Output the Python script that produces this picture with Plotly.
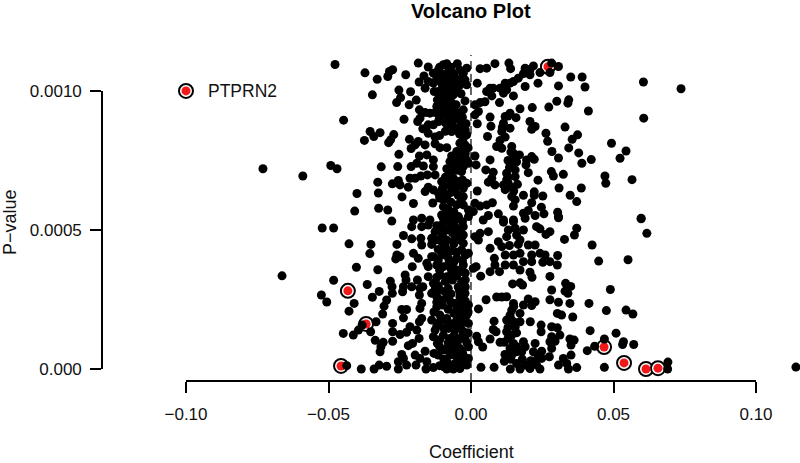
import numpy as np
import plotly.graph_objects as go

# All pairs: (coefficient x 1e3, p-value x 1e6)
upper_left = [(-47.7,1095),(-37.2,1065),(-32.9,1042),(-29.2,1052),(-28.6,1070),(-27.5,1076),(-22.9,1058),(-18.5,1100),(-15,1086),
(-34.6,986),(-25.3,1003),(-21.2,997),(-26.1,958),(-24.7,976),(-21.7,950),(-19.2,967),(-44.7,895),(-23.5,898),(-18.1,932),(-16.1,922),
(-18.7,890),(-17.9,902),(-35.4,854),(-34.1,836),(-31.9,850),(-37.4,822),(-27.1,843),(-28.9,814),(-28.2,824),(-21.6,826),(-18.5,818),
(-16.1,806),(-21,793),(-19.6,806),(-25.3,772),(-49.2,732),(-47,720),(-31.5,727),(-25.7,728),(-59,694),(-21,728),(-19,740),(-18.1,766),
(-15.5,770),(-13.2,752),(-16.7,730),(-13.2,728),(-12.6,698),(-32.7,672),(-27.6,666),(-25.5,678),(-24.9,662),(-22,654),(-21.4,686),
(-19.6,686),(-17.6,694),(-15.3,698),(-40,631),(-32.5,633),(-24.2,619),(-16.1,638),(-15,654),(-20.2,595),(-13.4,597),(-40.8,568),
(-32.4,578),(-29.2,572),(-73,720),(-66.3,335)]
core_upper_left = [(-13.2,1064),(-11.4,1076),(-9.7,1094),(-8.5,1098),(-4.8,1098),(-10.9,1058),(-9.5,1046),(-7.9,1070),(-1.5,1082),
(-2.7,1064),(-5,1040),(-2.1,1040),(-1.5,1022),(-5.9,1022),(-16.5,1054),(-15,1034),(-18.2,1032),(-16.1,1010),(-13.2,1028),(-10.3,1028),
(-12.9,998),(-9.7,1004),(-11.4,998),(-5,1004),(-6.8,1010),(-6.2,986),(-7.9,980),(-2.1,964),(-11.8,968),(-9.7,968),(-12,944),(-10.3,944),
(-8.5,938),(-5.2,950),(-2.7,932),(-4.1,920),(-5.6,920),(-7.9,926),(-10.3,922),(-12.6,922),(-14.4,920),(-6.2,896),(-1.7,882),(-3.3,878),
(-11.4,890),(-13.2,878),(-15,878),(-16.9,864),(-15,848),(-12.6,834),(-7.4,872),(-6.8,854),(-5,860),(-1.5,842),(-2.7,830),(-3.9,812),
(-2.1,806),(-12.6,810),(-10.9,796),(-8.5,796),(-5,782),(-2.7,788),(-2.1,764),(-6.8,766),(-7.4,746),(-5,740),(-8.5,720),(-6.2,734),
(-2.7,728),(-0.9,740),(-3.3,710),(-10.3,674),(-6.2,686),(-4.4,674),(-8.5,662),(-6.8,656),(-1.5,668),(-2.7,650),(-5.6,644),(-13.2,644),
(-11.4,632),(-9.7,638),(-8.5,620),(-9.7,608),(-2.7,620),(-5,590),(-2.7,590),(-0.9,572),(-9.7,584),(-8.5,560),(-10.3,554),(-4.4,548),
(-11,1085),(-7,1085),(-9,1060),(-6,1060),(-4,1075),(-3,1050),(-12,1045),(-8,1030),(-7,1045),(-4,1020),(-10,1012),(-8,1000),(-3.5,990),
(-9,985),(-11,980),(-8.5,955),(-7,960),(-6,935),(-9.5,930),(-11,905),(-8,905),(-4,895),(-3,905),(-9,885),(-6,870),(-2,860),(-4,845),
(-9,855),(-11,840),(-3,795),(-1,795),(-2,775),(-4,760),(-6,750),(-3.5,745),(-1.5,750),(-7,705),(-5,715),(-9,690),(-7,670),(-3,680),
(-5,660),(-10,650),(-7,635),(-4.5,625),(-11,615),(-7,600),(-3.5,605),(-8,575),(-6,565),(-7,548)]
lower_left = [(-52.2,507),(-48.2,507),(-42.8,450),(-35.1,448),(-35.5,415),(-40.2,366),(-32.7,357),(-27.8,532),(-26,448),(-23.7,480),
(-26,410),(-24.9,404),(-26.4,396),(-48.2,319),(-36.4,304),(-52.5,266),(-50.6,241),(-34.6,258),(-32.2,279),(-41,236),(-42.8,208),
(-28.3,316),(-27.7,296),(-27.6,272),(-29.6,248),(-30.5,226),(-31,198),(-23.1,338),(-22.8,320),(-23.7,296),(-24,278),(-20.8,296),
(-18.8,320),(-44.8,128),(-41.3,122),(-39.5,140),(-33.3,170),(-35.2,134),(-38.2,158),(-33.6,103),(-30.8,96),(-31.6,80),(-31.9,62),
(-27.5,100),(-27.5,164),(-27.5,134),(-24.9,124),(-22.6,132),(-21.4,152),(-19,140),(-24.3,214),(-22.6,214),(-23.7,184),(-43.6,12),
(-38.5,0),(-34,0),(-32.2,14),(-29.6,10),(-25.5,0),(-25.5,26),(-23.7,38),(-22.6,14),(-24.3,52),(-19.3,14),(-22,84),(-20.5,92),(-18.2,110),
(-19.6,50),(-16.1,64),(-13,56),(-15.5,26),(-15.8,0),(-13.2,5),(-17.9,38),(-20.2,536),(-20.8,512),(-17.3,542),(-14.4,536),(-17.3,512),
(-15,518),(-20.8,468),(-17.6,470),(-17.3,446),(-13.8,470),(-13.8,448),(-20.2,416),(-18.5,398),(-20.6,368),(-15.5,380),(-15,368),
(-13.8,404),(-15,332),(-17.9,290),(-16.9,296),(-18.1,266),(-17.9,218),(-17.3,236),(-18.1,170),(-17.3,182),(-13.8,176),(-12.6,140),
(-13.2,116),(-11.8,92)]
core_lower_left = [(-9.7,542),(-8.5,536),(-10.9,500),(-12.6,494),(-8.5,500),(-5,506),(-2.7,512),(-0.9,548),(-4.4,542),(-2.7,482),
(-5.6,470),(-8.5,464),(-10.3,458),(-2.7,452),(-3.3,428),(-0.9,416),(-13.2,404),(-10.3,410),(-7.9,398),(-5,398),(-2.7,374),(-12,374),
(-9.7,368),(-5,356),(-3.3,350),(-6.8,344),(-10.9,338),(-8.5,332),(-3.3,314),(-13.2,308),(-10.9,284),(-9.1,278),(-13.8,272),(-12,260),
(-10.3,248),(-2.1,272),(-3.9,260),(-5.6,236),(-0.9,230),(-2.7,218),(-4.4,206),(-1.5,194),(-12,224),(-10.9,194),(-8.5,182),(-10.9,170),
(-6.2,164),(-3.9,164),(-0.9,164),(-7.9,146),(-5.6,140),(-2.7,134),(-9.7,122),(-7.4,110),(-4.4,104),(-2.1,110),(-6.2,80),(-3.9,74),
(-0.9,80),(-8.5,74),(-9.7,68),(-7.4,50),(-5,44),(-2.7,50),(-0.9,38),(-8.5,26),(-5.6,20),(-3.3,20),(-8.5,0),(-6.2,0),(-3.9,2),(-1.5,14),
(-6,530),(-3,530),(-10,520),(-7,515),(-12,515),(-4,490),(-6.5,490),(-10,480),(-12,465),(-6,450),(-4,465),(-9,440),(-11.5,430),(-7,425),
(-5,420),(-2,410),(-9,415),(-11.5,390),(-6,385),(-3,390),(-8,375),(-11,355),(-2,345),(-7,360),(-5,335),(-12,330),(-9,315),(-6.5,320),
(-2,320),(-11.5,300),(-8,290),(-4.5,295),(-2,295),(-12.5,290),(-7,270),(-4,280),(-8.5,255),(-2,245),(-3.5,235),(-10,230),(-7,240),(-12,240),
(-8,215),(-5,220),(-1,205),(-13,205),(-6,200),(-3,190),(-8,165),(-12,155),(-2,170),(-5,175),(-9.5,145),(-3.5,145),(-1,130),(-11,105),
(-6,120),(-3,120),(-8,95),(-5.5,92),(-1.5,95),(-11,80),(-3,60),(-6,62),(-11.5,50),(-9.5,35),(-4,30),(-2,30),(-11,12),(-9.5,8),(-7,12),(-5,5)]
upper_right = [(3.2,1080),(5.5,1082),(8.4,1098),(13.3,1100),(13.9,1080),(21.9,1090),(19,1082),(20.7,1076),(18.4,1062),(20.7,1058),
(24.2,1066),(28.3,1100),(30.7,1088),(27.7,1066),(35,1050),(39,1050),(40,1014),(60.5,1032),(60.6,902),(30.7,1018),(23.5,1028),(19,1016),
(16.6,1046),(14.9,1034),(13.7,1028),(12,1028),(10.2,1010),(12.5,1004),(11.4,992),(7.8,1010),(6.7,1010),(5.5,998),(7.3,982),(2.2,1028),
(14.9,982),(10,958),(4.9,961),(3.2,958),(1.4,950),(2.6,926),(1.4,914),(17.2,936),(21.5,940),(27.3,942),(30.1,963),(34.3,968),(34,956),
(41.2,928),(6.7,906),(2.2,882),(7,873),(5.8,836),(13.7,920),(15.8,904),(12,908),(11.4,884),(13.7,866),(10.8,854),(12,834),(10.2,822),
(9,800),(10.8,794),(20.7,890),(22.5,872),(21.3,862),(26.3,848),(26.9,819),(33,870),(37.4,842),(35.5,826),(34.3,795),(28.4,782),(37.8,777),
(30.7,759),(42.2,753),(38.9,740),(49.3,812),(54.4,784),(52.3,758),(47,694),(47.3,668),(56.5,681),(32.4,700),(28.2,710),(28.9,694),
(23.5,679),(30.9,651),(38.7,651),(34.8,625),(37.1,602),(59.7,542),(25.2,622),(22.2,637),(22.2,625),(18.4,625),(21.3,598),(24.7,582),
(25.6,558),(30.4,564),(30.7,548),(14.3,800),(14.9,776),(14.9,758),(17,770),(14.3,734),(15.5,716),(12.5,704),(15.5,692),(12.5,680),
(11.4,662),(13.7,656),(16.3,664),(14.3,620),(15.5,608),(14.9,586),(21.3,764),(19.5,752),(22.2,754),(19.3,734),(20.1,706),(6.7,752),
(1.4,766),(1.8,734),(5.2,716),(7.8,708),(7.3,686),(6.1,672),(8.4,662),(2.2,640),(1.4,596),(3.2,586),(5.5,590),(7.5,598),(0.8,566),
(6.1,552),(9.6,558),(18.4,560),(20.1,570),(22.5,552),(14.9,536),(11.4,536),(73.7,1008),(13,910),(11,870),(14,780),(13,750),(13.5,725),
(16,745),(13,690),(13,670),(12,645),(15,640)]
lower_right = [(59.7,540),(61.7,488),(42.5,446),(44.8,388),(55.1,393),(37.1,506),(36.3,482),(32.8,466),(30.7,544),(27.7,494),(26.3,484),
(24.2,504),(23,512),(19,542),(14.9,530),(11.4,528),(4.3,536),(6.1,494),(3.2,488),(1.4,476),(2.6,464),(13.1,500),(15.5,506),(18.4,500),
(12.5,476),(17.2,464),(16,482),(9.6,458),(10.8,440),(6.7,434),(13.5,444),(16.6,448),(20.1,446),(22.5,446),(8.2,398),(12,410),(14.9,410),
(17.2,416),(21.3,410),(24.2,416),(26,410),(30.4,408),(30.3,374),(27.7,386),(25.2,384),(18.4,386),(21.3,386),(12,374),(8.4,374),(14.9,374),
(1.8,368),(0.8,362),(3.4,334),(6.7,350),(10,350),(17.2,356),(20.7,348),(21.4,330),(27.7,333),(14.6,306),(17.2,310),(18.1,302),(33.2,308),
(35,297),(33,280),(34,272),(28.3,284),(27.7,249),(30.7,240),(34.7,236),(41.4,236),(48.9,286),(5.3,249),(9,259),(10.8,259),(12.5,260),
(2.6,216),(14.9,236),(14.3,212),(13.7,194),(20.1,252),(22.5,242),(18.4,230),(21.3,228),(17.2,200),(30.3,200),(31.8,194),(35.7,187),
(47.5,210),(54.4,212),(56.8,198),(8.1,172),(12.5,176),(14.9,170),(17.2,170),(20.8,170),(7.8,142),(8.8,134),(12.5,134),(14.3,122),
(24.6,158),(24.6,134),(28.3,152),(30.3,148),(31.2,122),(41.8,138),(50.9,129),(2,118),(6.7,108),(2.6,98),(4.1,79),(10.2,96),(11.7,96),
(14.9,92),(18.4,98),(22.5,92),(28.3,116),(27.7,98),(29.5,100),(28.3,74),(34.7,108),(36.2,104),(35.1,86),(35.1,50),(46.8,108),(43.4,82),
(40.8,66),(53.5,98),(53.2,88),(57.1,88),(13.7,74),(16,62),(17.8,62),(11.9,52),(14.3,50),(21.9,62),(24.8,64),(23.6,44),(27.5,44),(11.7,28),
(16,20),(19,14),(22.5,26),(24.8,38),(32.4,38),(30.7,14),(33.6,20),(34.2,0),(37.1,5),(3.5,6),(8.1,6),(13.8,0),(17.2,0),(20.7,2),(24.2,0),
(46.8,6),(69.1,25),(69,0),(114,7),(15,225),(14,180),(13,150),(15.5,150),(16,130),(13,110),(16,80),(19,80),(14,35),(21,30),(23,15),(18,35)]
highlighted = [(27,1087),(-43.2,281),(-36.8,162),(-45.6,11),(46.7,79),(53.7,22),(61.4,0),(65.6,3)]
legend_point = [(-100,1000)]
legend_label = "PTPRN2"

x_ticks = [-0.10, -0.05, 0.0, 0.05, 0.10]
x_tick_labels = ["\u22120.10", "\u22120.05", "0.00", "0.05", "0.10"]
y_ticks = [0.0, 0.0005, 0.0010]
y_tick_labels = ["0.000", "0.0005", "0.0010"]

def xs(pts):
    return np.array([p[0] for p in pts]) / 1e3

def ys(pts):
    return np.array([p[1] for p in pts]) / 1e6

W, H = 800, 463
FONT = "Liberation Sans"
INK = "#111111"
background = upper_left + core_upper_left + lower_left + core_lower_left + upper_right + lower_right
ringed = highlighted + legend_point

fig = go.Figure()
fig.add_trace(go.Scatter(x=xs(ringed), y=ys(ringed), mode="markers", showlegend=False, hoverinfo="skip",
    marker=dict(size=14, color="white", line=dict(color="black", width=2))))
fig.add_trace(go.Scatter(x=xs(ringed), y=ys(ringed), mode="markers", showlegend=False,
    marker=dict(size=9, color="#f01818", line=dict(width=0))))
fig.add_trace(go.Scatter(x=xs(background), y=ys(background), mode="markers", showlegend=False,
    marker=dict(size=9, color="black", line=dict(width=0))))
# invisible trace that makes the R-style trimmed axes (x2, y2) appear
fig.add_trace(go.Scatter(x=[x_ticks[0]], y=[y_ticks[0]], xaxis="x2", yaxis="y2", mode="markers",
    marker=dict(opacity=0), showlegend=False, hoverinfo="skip"))

fig.add_shape(type="line", xref="x", yref="paper", x0=0, x1=0, y0=(H-381)/H, y1=(H-55)/H,
    line=dict(color="black", width=1.2, dash="8px,5px"), layer="below")
fig.add_annotation(x=legend_point[0][0]/1e3, y=legend_point[0][1]/1e6, text=legend_label, showarrow=False,
    xanchor="left", xshift=20, font=dict(family=FONT, size=17.5, color=INK))
fig.add_annotation(x=471/W, y=(H-11)/H, xref="paper", yref="paper", text="<b>Volcano Plot</b>", showarrow=False,
    xanchor="center", yanchor="middle", borderpad=0, font=dict(family=FONT, size=20, color="black"))
fig.add_annotation(x=471/W, y=(H-452)/H, xref="paper", yref="paper", text="Coefficient", showarrow=False,
    xanchor="center", yanchor="middle", borderpad=0, font=dict(family=FONT, size=18, color=INK))
fig.add_annotation(x=10/W, y=(H-222)/H, xref="paper", yref="paper", text="P\u2212value", showarrow=False, textangle=-90,
    xanchor="center", yanchor="middle", font=dict(family=FONT, size=18, color=INK))

axis_style = dict(tickmode="array", ticks="outside", ticklen=11, tickwidth=1.6, tickcolor="black", showline=True,
    linecolor="black", linewidth=1.6, showgrid=False, zeroline=False, automargin=False,
    tickfont=dict(family=FONT, size=17, color=INK))
fig.update_layout(width=W, height=H, margin=dict(l=0, r=0, t=0, b=0), autosize=False,
    paper_bgcolor="white", plot_bgcolor="rgba(0,0,0,0)", showlegend=False,
    xaxis=dict(domain=[0, 1], range=[-0.16526, 0.11544], visible=False),
    yaxis=dict(domain=[0, 1], range=[-0.000338, 0.001327], visible=False),
    xaxis2=dict(domain=[186/W, 756/W], range=[-0.1, 0.1], anchor="free", position=(H-381)/H,
        tickvals=x_ticks, ticktext=x_tick_labels, ticklabelstandoff=7, **axis_style),
    yaxis2=dict(domain=[(H-369)/H, (H-91)/H], range=[0, 0.001], anchor="free", position=102/W,
        tickvals=y_ticks, ticktext=y_tick_labels, ticklabelstandoff=5, **axis_style))

fig.write_html("out.html", post_script="document.body.style.margin='0';", config={"displayModeBar": False})
